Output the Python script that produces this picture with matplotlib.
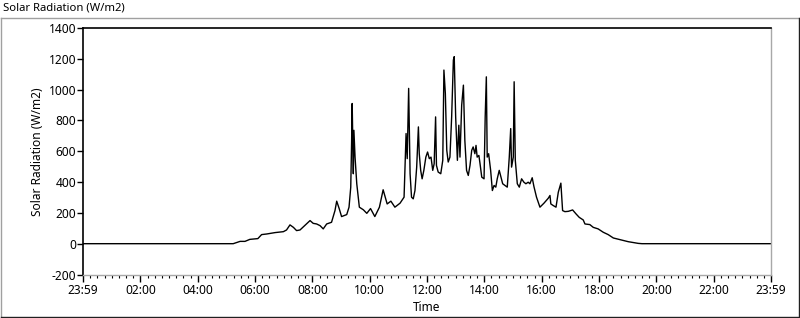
import numpy as np
import matplotlib
matplotlib.use("Agg")
import matplotlib.pyplot as plt
from matplotlib.lines import Line2D

# Hora del dia (horas decimales) y radiacion solar (W/m2)
horas = [
    0.00, 5.24, 5.48, 5.65, 5.82, 6.10, 6.23, 6.41, 6.70, 6.99, 7.10, 7.22, 7.34, 7.45,
    7.57, 7.74, 7.92, 8.03, 8.15, 8.27, 8.38, 8.50, 8.67, 8.79, 8.85, 8.94, 9.02, 9.20,
    9.28, 9.34, 9.37, 9.39, 9.43, 9.45, 9.49, 9.55, 9.64, 9.78, 9.90, 10.03, 10.18, 10.34,
    10.47, 10.61, 10.74, 10.88, 11.06, 11.20, 11.27, 11.31, 11.36, 11.41, 11.46, 11.52,
    11.58, 11.64, 11.70, 11.73, 11.78, 11.83, 11.89, 11.96, 12.02, 12.08, 12.14, 12.20,
    12.25, 12.30, 12.33, 12.39, 12.48, 12.55, 12.59, 12.64, 12.69, 12.74, 12.80, 12.86,
    12.92, 12.95, 13.00, 13.06, 13.11, 13.15, 13.21, 13.27, 13.32, 13.38, 13.44, 13.50,
    13.56, 13.61, 13.67, 13.71, 13.75, 13.81, 13.85, 13.91, 13.99, 14.03, 14.07, 14.10,
    14.15, 14.22, 14.28, 14.34, 14.40, 14.45, 14.52, 14.58, 14.64, 14.72, 14.80, 14.87,
    14.92, 14.95, 15.01, 15.04, 15.08, 15.15, 15.22, 15.30, 15.38, 15.45, 15.53, 15.59,
    15.67, 15.73, 15.82, 15.94, 16.08, 16.23, 16.29, 16.32, 16.40, 16.50, 16.58, 16.67,
    16.73, 16.81, 16.93, 17.08, 17.20, 17.31, 17.45, 17.51, 17.68, 17.80, 17.97, 18.15,
    18.32, 18.50, 18.79, 19.02, 19.37, 19.50, 24.00,
]
radiacion = [
    0, 0, 15, 15, 28, 33, 59, 63, 72, 78, 89, 122, 106, 85,
    89, 119, 150, 132, 128, 117, 96, 128, 139, 215, 276, 226, 176, 189,
    237, 367, 660, 910, 454, 736, 562, 389, 237, 220, 197, 228, 176, 237,
    350, 258, 276, 237, 263, 302, 715, 552, 1008, 454, 302, 291,
    345, 497, 758, 584, 476, 421, 476, 562, 595, 552, 562, 476,
    519, 823, 508, 465, 454, 541, 1127, 975, 606, 530, 562, 823,
    1192, 1214, 823, 541, 769, 562, 899, 1029, 671, 476, 443, 508,
    606, 628, 584, 638, 562, 573, 519, 432, 421, 823, 1083, 562,
    584, 476, 345, 378, 367, 421, 476, 432, 389, 378, 367, 562,
    747, 497, 562, 1051, 541, 389, 367, 421, 399, 389, 399, 389,
    428, 371, 302, 237, 263, 295, 313, 258, 248, 237, 334, 393,
    215, 208, 210, 219, 193, 171, 154, 128, 124, 106, 96, 74,
    59, 37, 24, 13, 2, 0, 0,
]

x_ticks = list(range(0, 25, 2))
x_labels = ["23:59", "02:00", "04:00", "06:00", "08:00", "10:00", "12:00",
            "14:00", "16:00", "18:00", "20:00", "22:00", "23:59"]
y_ticks = list(range(-200, 1401, 200))

plt.rcParams["font.family"] = ["Noto Sans", "DejaVu Sans"]
plt.rcParams["font.size"] = 8.6

W, H = 800, 318
fig = plt.figure(figsize=(W / 100, H / 100), dpi=100)

# Marco exterior (estilo panel)
fig.add_artist(Line2D([0.5 / W, 799.5 / W], [1 - 18 / H, 1 - 18 / H], color="#a0a0a0", lw=1))
fig.add_artist(Line2D([0.5 / W, 0.5 / W], [1 - 18 / H, 1 - 317 / H], color="#a0a0a0", lw=1))
fig.add_artist(Line2D([0.5 / W, 799.5 / W], [1 - 316.5 / H, 1 - 316.5 / H], color="#202020", lw=1))
fig.add_artist(Line2D([798.5 / W, 798.5 / W], [1 - 18 / H, 1 - 317 / H], color="#202020", lw=1))
fig.text(3 / W, 1 - 8 / H, "Solar Radiation (W/m2)", ha="left", va="center", fontsize=8.1)

ax = fig.add_axes([83 / W, 1 - 274.5 / H, (771 - 83) / W, (274.5 - 28) / H])
ax.plot(horas, radiacion, color="black", lw=1.0)

ax.set_xlim(0, 24)
ax.set_ylim(-200, 1400)
ax.set_xticks(x_ticks)
ax.set_xticklabels(x_labels)
ax.set_xticks(np.arange(0, 24.01, 0.25), minor=True)
ax.set_yticks(y_ticks)
ax.set_yticklabels([str(v) for v in y_ticks])

ax.tick_params(axis="x", which="major", direction="out", length=5, width=1, pad=2)
ax.tick_params(axis="x", which="minor", direction="out", length=2.5, width=0.8)
ax.tick_params(axis="y", which="major", direction="out", length=4, width=1, pad=1)

for side in ["left", "top"]:
    ax.spines[side].set_color("black")
    ax.spines[side].set_linewidth(1.2)
for side in ["right", "bottom"]:
    ax.spines[side].set_color("#a8a8a8")
    ax.spines[side].set_linewidth(1.0)

ax.set_xlabel("Time", labelpad=3)
ax.set_ylabel("Solar Radiation (W/m2)", labelpad=3)

fig.savefig("out.png", dpi=100)
plt.close(fig)
